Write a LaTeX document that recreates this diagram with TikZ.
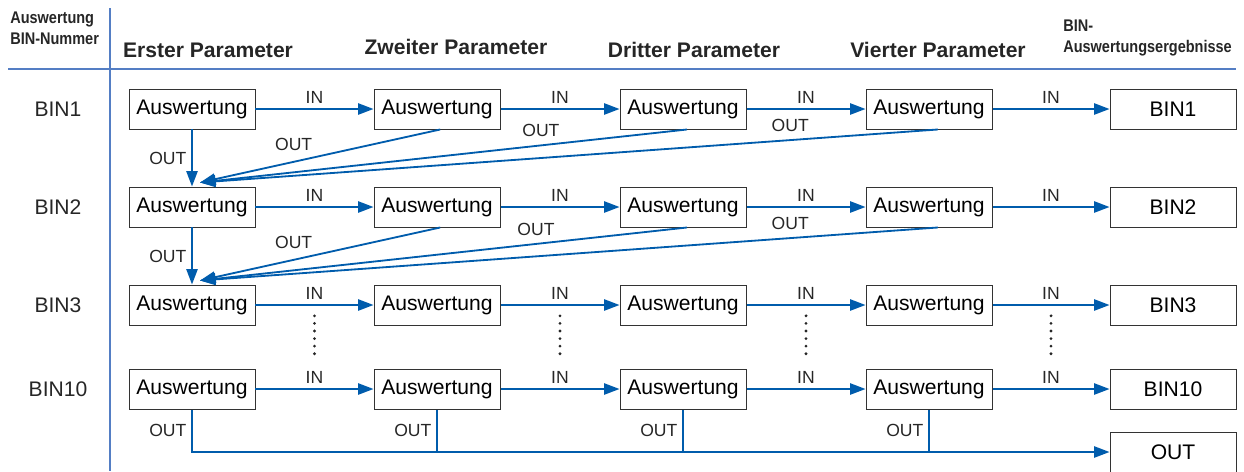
\documentclass[tikz,border=0pt]{standalone}
\usepackage{fontspec}
\setmainfont{Liberation Sans}
\newfontfamily\narrowfont[FakeStretch=0.86]{Liberation Sans}
\definecolor{LinkBlue}{RGB}{0, 92, 172}
\definecolor{RuleBlue}{RGB}{84, 126, 196}
\usetikzlibrary{arrows.meta, positioning, calc}

\tikzset{
  evalbox/.style={draw=black!80, line width=0.7pt, fill=white, minimum width=3.15cm, minimum height=1cm, inner sep=0pt, font=\fontsize{15}{18}\selectfont},
  link/.style={LinkBlue, line width=1.3pt},
  arrowlink/.style={link, -{Triangle[length=11pt, width=8pt]}},
  tag/.style={font=\fontsize{12.5}{14}\selectfont, text=black!85},
  binlabel/.style={font=\fontsize{15}{18}\selectfont, text=black!85},
  colhead/.style={font=\bfseries\fontsize{15}{18}\selectfont, text=black!85},
  smallhead/.style={font=\narrowfont\bfseries\fontsize{12}{15}\selectfont, text=black!85, align=left, inner sep=0pt},
  dotline/.style={black!85, line width=2.2pt, line cap=round, dash pattern=on 0pt off 5.4pt}
}

\begin{document}
\begin{tikzpicture}
    \useasboundingbox (0,0) rectangle (31.1,-11.775);

    % header
    \draw[RuleBlue, line width=1.3pt] (2.75,-0.2) -- (2.75,-11.775);
    \draw[RuleBlue, line width=1.3pt] (0.2,-1.725) -- (30.9,-1.725);
    \node[smallhead, anchor=west] (hbin) at (0.25,-0.71) {Auswertung\\BIN-Nummer};
    \node[colhead] (hp1) at (5.2,-1.25) {Erster Parameter};
    \node[colhead] (hp2) at (11.4,-1.175) {Zweiter Parameter};
    \node[colhead] (hp3) at (17.35,-1.25) {Dritter Parameter};
    \node[colhead] (hp4) at (23.45,-1.25) {Vierter Parameter};
    \node[smallhead, anchor=west] (hres) at (26.575,-0.94) {BIN-\\Auswertungsergebnisse};

    % row labels
    \node[binlabel] (l1) at (1.45,-2.725) {BIN1};
    \node[binlabel] (l2) at (1.45,-5.175) {BIN2};
    \node[binlabel] (l3) at (1.45,-7.625) {BIN3};
    \node[binlabel] (l10) at (1.45,-9.725) {BIN10};

    % BIN1
    \node[evalbox] (b11) at (4.8,-2.725) {Auswertung};
    \node[evalbox] (b12) at (10.925,-2.725) {Auswertung};
    \node[evalbox] (b13) at (17.075,-2.725) {Auswertung};
    \node[evalbox] (b14) at (23.225,-2.725) {Auswertung};
    \node[evalbox] (r1) at (29.325,-2.725) {BIN1};
    % BIN2
    \node[evalbox] (b21) at (4.8,-5.175) {Auswertung};
    \node[evalbox] (b22) at (10.925,-5.175) {Auswertung};
    \node[evalbox] (b23) at (17.075,-5.175) {Auswertung};
    \node[evalbox] (b24) at (23.225,-5.175) {Auswertung};
    \node[evalbox] (r2) at (29.325,-5.175) {BIN2};
    % BIN3
    \node[evalbox] (b31) at (4.8,-7.625) {Auswertung};
    \node[evalbox] (b32) at (10.925,-7.625) {Auswertung};
    \node[evalbox] (b33) at (17.075,-7.625) {Auswertung};
    \node[evalbox] (b34) at (23.225,-7.625) {Auswertung};
    \node[evalbox] (r3) at (29.325,-7.625) {BIN3};
    % BIN10
    \node[evalbox] (b41) at (4.8,-9.725) {Auswertung};
    \node[evalbox] (b42) at (10.925,-9.725) {Auswertung};
    \node[evalbox] (b43) at (17.075,-9.725) {Auswertung};
    \node[evalbox] (b44) at (23.225,-9.725) {Auswertung};
    \node[evalbox] (r10) at (29.325,-9.725) {BIN10};
    \node[evalbox] (outbox) at (29.325,-11.3) {OUT};

    % IN chains
    \foreach \r/\res in {1/r1, 2/r2, 3/r3, 4/r10} {
      \draw[arrowlink] (b\r1) -- node[tag, above] {IN} (b\r2);
      \draw[arrowlink] (b\r2) -- node[tag, above] {IN} (b\r3);
      \draw[arrowlink] (b\r3) -- node[tag, above] {IN} (b\r4);
      \draw[arrowlink] (b\r4) -- node[tag, above] {IN} (\res);
    }

    % OUT into next BIN
    \coordinate (t2) at ([xshift=0.2cm, yshift=0.1cm]b21.north);
    \coordinate (t3) at ([xshift=0.2cm, yshift=0.1cm]b31.north);
    \draw[arrowlink] (b11) -- node[tag, left] {OUT} (b21);
    \draw[arrowlink] ([xshift=0.08cm]b12.south) -- node[tag, pos=0.61, above=4pt] {OUT} (t2);
    \draw[arrowlink] ([xshift=0.1cm]b13.south) -- node[tag, pos=0.3, above=2pt] {OUT} (t2);
    \draw[arrowlink] ([xshift=0.22cm]b14.south) -- node[tag, pos=0.2, above=2pt] {OUT} (t2);
    \draw[arrowlink] (b21) -- node[tag, left] {OUT} (b31);
    \draw[arrowlink] ([xshift=0.08cm]b22.south) -- node[tag, pos=0.61, above=4pt] {OUT} (t3);
    \draw[arrowlink] ([xshift=0.1cm]b23.south) -- node[tag, pos=0.31, above=2pt] {OUT} (t3);
    \draw[arrowlink] ([xshift=0.22cm]b24.south) -- node[tag, pos=0.2, above=2pt] {OUT} (t3);

    % skipped rows
    \draw[dotline] ($(b31.east)!0.5!(b32.west)+(0,-0.27)$) -- ($(b41.east)!0.5!(b42.west)+(0,0.8)$);
    \draw[dotline] ($(b32.east)!0.5!(b33.west)+(0,-0.27)$) -- ($(b42.east)!0.5!(b43.west)+(0,0.8)$);
    \draw[dotline] ($(b33.east)!0.5!(b34.west)+(0,-0.27)$) -- ($(b43.east)!0.5!(b44.west)+(0,0.8)$);
    \draw[dotline] ($(b34.east)!0.5!(r3.west)+(0,-0.27)$) -- ($(b44.east)!0.5!(r10.west)+(0,0.8)$);

    % OUT collector
    \draw[arrowlink] (b41.south) |- node[tag, pos=0.25, left] {OUT} (outbox.west);
    \draw[link] (b42.south) -- node[tag, left] {OUT} (b42.south |- outbox.west);
    \draw[link] (b43.south) -- node[tag, left] {OUT} (b43.south |- outbox.west);
    \draw[link] (b44.south) -- node[tag, left] {OUT} (b44.south |- outbox.west);
\end{tikzpicture}
\end{document}
